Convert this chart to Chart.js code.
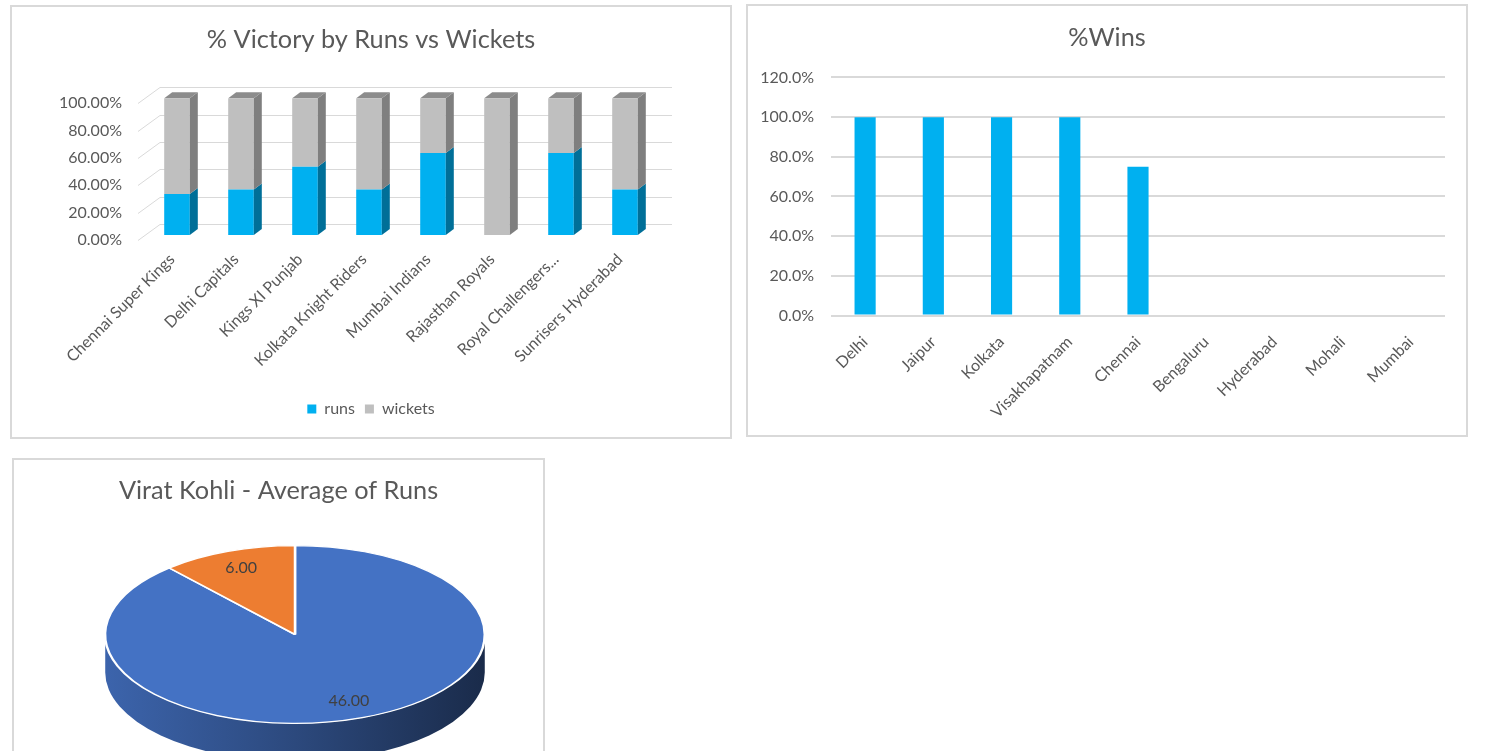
<!DOCTYPE html>
<html><head><meta charset="utf-8">
<script src="https://cdn.jsdelivr.net/npm/chart.js@4.4.1/dist/chart.umd.min.js"></script>
<style>
html,body{margin:0;padding:0;background:#fff;overflow:hidden;width:1492px;height:751px;position:relative;}
.box{position:absolute;border:2px solid #d9d9d9;box-sizing:border-box;background:#fff;}
canvas{position:absolute;}
</style></head><body>
<div class="box" style="left:10px;top:5px;width:722px;height:434px;"></div>
<div class="box" style="left:746px;top:4px;width:722px;height:433px;"></div>
<div class="box" style="left:12px;top:458px;width:533px;height:400px;"></div>
<canvas id="c1" style="left:12px;top:7px;width:718px;height:430px;" width="718" height="430"></canvas>
<canvas id="c2" style="left:748px;top:6px;width:718px;height:429px;" width="718" height="429"></canvas>
<canvas id="c3" style="left:14px;top:460px;width:529px;height:438px;" width="529" height="438"></canvas>
<script>
// ---------- data ----------
const teams = ['Chennai Super Kings','Delhi Capitals','Kings XI Punjab','Kolkata Knight Riders','Mumbai Indians','Rajasthan Royals','Royal Challengers...','Sunrisers Hyderabad'];
const runsPct = [30, 33.33, 50, 33.33, 60, 0, 60, 33.33];
const wicketsPct = [70, 66.67, 50, 66.67, 40, 100, 40, 66.67];

const venues = ['Delhi','Jaipur','Kolkata','Visakhapatnam','Chennai','Bengaluru','Hyderabad','Mohali','Mumbai'];
const winsPct = [100, 100, 100, 100, 75, 0, 0, 0, 0];

const pieCategories = ['Runs A','Runs B'];
const pieValues = [46, 6];

// ---------- styles ----------
Chart.defaults.font.family = 'Lato, "Open Sans", sans-serif';
Chart.defaults.color = '#595959';
const TXT = '#595959';
const TITLE_FONT = {size: 25.3, weight: 'normal'};
const AXIS_FONT = {size: 16};

// invisible spacer axis (reserves room on one side of the plot)
function spacer(pos, w) {
  return {position: pos, display: true, grid: {display: false, drawTicks: false}, border: {display: false},
          ticks: {display: false}, afterFit(s) { s.width = w; }};
}

// ---------- chart 1 : 3D stacked columns ----------
const bar3d = {
  id: 'bar3d',
  beforeDatasetsDraw(chart) {
    const {ctx, chartArea: a, scales: {y}} = chart;
    ctx.save();
    ctx.strokeStyle = '#d9d9d9';
    ctx.lineWidth = 1;
    y.ticks.forEach(t => {
      const py = Math.round(y.getPixelForValue(t.value)) + 0.5;
      ctx.beginPath();
      ctx.moveTo(a.left - 7, py + 5);
      ctx.lineTo(a.left + 15, py - 11);
      ctx.lineTo(a.right + 15, py - 11);
      ctx.stroke();
    });
    ctx.restore();
  },
  afterDatasetsDraw(chart) {
    const ctx = chart.ctx, dx = 8, dy = -6;
    const sets = chart.data.datasets;
    ctx.save();
    sets.forEach((ds, di) => {
      const meta = chart.getDatasetMeta(di);
      meta.data.forEach((el, i) => {
        if (!ds.data[i]) return;
        const {x, y, base, width} = el.getProps(['x', 'y', 'base', 'width'], true);
        const l = x - width / 2, r = x + width / 2;
        ctx.fillStyle = ds.sideColor;
        ctx.beginPath();
        ctx.moveTo(r, y); ctx.lineTo(r + dx, y + dy); ctx.lineTo(r + dx, base + dy); ctx.lineTo(r, base);
        ctx.closePath(); ctx.fill();
        const isTop = sets.slice(di + 1).every(d => !d.data[i]);
        if (isTop) {
          ctx.fillStyle = ds.topColor;
          ctx.beginPath();
          ctx.moveTo(l, y); ctx.lineTo(l + dx, y + dy); ctx.lineTo(r + dx, y + dy); ctx.lineTo(r, y);
          ctx.closePath(); ctx.fill();
        }
      });
    });
    ctx.restore();
  }
};

new Chart(document.getElementById('c1'), {
  type: 'bar',
  data: {
    labels: teams,
    datasets: [
      {label: 'runs', data: runsPct, backgroundColor: '#00B0F0', sideColor: '#006F98', topColor: '#0090C4', barPercentage: 0.4, categoryPercentage: 1},
      {label: 'wickets', data: wicketsPct, backgroundColor: '#BFBFBF', sideColor: '#7F7F7F', topColor: '#8C8C8C', barPercentage: 0.4, categoryPercentage: 1}
    ]
  },
  options: {
    responsive: false, animation: false,
    layout: {padding: {left: 0, right: 0, top: 0, bottom: 10}},
    plugins: {
      title: {display: true, text: '% Victory by Runs vs Wickets', color: TXT, font: TITLE_FONT, padding: {top: 17.8, bottom: 43.1}},
      legend: {position: 'bottom', labels: {boxWidth: 9, boxHeight: 9, color: TXT, font: AXIS_FONT, padding: 10}},
      tooltip: {enabled: false}
    },
    scales: {
      x: {stacked: true, grid: {display: false}, border: {display: false},
          ticks: {color: TXT, font: AXIS_FONT, minRotation: 45, maxRotation: 45, padding: 7, labelOffset: -5, autoSkip: false},
          afterFit(s) { s.height = 156; }},
      y: {stacked: true, min: 0, max: 100, grid: {display: false, drawTicks: false}, border: {display: false},
          ticks: {stepSize: 20, color: TXT, font: AXIS_FONT, padding: 23, labelOffset: 5, callback: v => v.toFixed(2) + '%'},
          afterFit(s) { s.width = 133; }},
      yR: spacer('right', 73)
    }
  },
  plugins: [bar3d]
});

// ---------- chart 2 : %Wins ----------
new Chart(document.getElementById('c2'), {
  type: 'bar',
  data: {
    labels: venues,
    datasets: [{label: '%Wins', data: winsPct, backgroundColor: '#00B0F0', barPercentage: 0.31, categoryPercentage: 1}]
  },
  options: {
    responsive: false, animation: false,
    layout: {padding: 0},
    plugins: {
      title: {display: true, text: '%Wins', color: TXT, font: TITLE_FONT, padding: {top: 16.8, bottom: 24.3}},
      legend: {display: false},
      tooltip: {enabled: false}
    },
    scales: {
      x: {grid: {display: false}, border: {display: false},
          ticks: {color: TXT, font: AXIS_FONT, minRotation: 45, maxRotation: 45, padding: 9, autoSkip: false},
          afterFit(s) { s.height = 119.5; }},
      y: {min: 0, max: 120, grid: {color: '#d9d9d9', lineWidth: 2, drawTicks: false}, border: {display: false},
          ticks: {stepSize: 20, color: TXT, font: AXIS_FONT, padding: 17, callback: v => v.toFixed(1) + '%'},
          afterFit(s) { s.width = 83; }},
      yR: spacer('right', 21)
    }
  }
});

// ---------- chart 3 : 3D pie ----------
const PIE_K = 0.4686;      // vertical squash of the tilted pie
const PIE_CY = 174.5;      // on-canvas vertical centre of the tilted pie
const PIE_DEPTH = 38;      // thickness of the pie side
function shade(hex, f) {
  const n = parseInt(hex.slice(1), 16);
  const r = Math.round(((n >> 16) & 255) * f), g = Math.round(((n >> 8) & 255) * f), b = Math.round((n & 255) * f);
  return `rgb(${r},${g},${b})`;
}
const pie3d = {
  id: 'pie3d',
  beforeDatasetsDraw(chart) {
    const ctx = chart.ctx;
    const meta = chart.getDatasetMeta(0);
    const e0 = meta.data[0];
    const cx = e0.x, cy = e0.y, r = e0.outerRadius;
    const ry = r * PIE_K;
    const colors = chart.data.datasets[0].backgroundColor;
    ctx.save();
    meta.data.forEach((el, i) => {
      const s = el.startAngle, e = el.endAngle;
      for (let k = -1; k <= 1; k++) {
        const a0 = Math.max(s, 2 * Math.PI * k), a1 = Math.min(e, 2 * Math.PI * k + Math.PI);
        if (a1 <= a0) continue;
        const g = ctx.createLinearGradient(cx - r, 0, cx + r, 0);
        g.addColorStop(0, shade(colors[i], 0.88));
        g.addColorStop(0.5, shade(colors[i], 0.64));
        g.addColorStop(1, shade(colors[i], 0.38));
        ctx.fillStyle = g;
        ctx.beginPath();
        ctx.ellipse(cx, PIE_CY, r, ry, 0, a0, a1, false);
        ctx.ellipse(cx, PIE_CY + PIE_DEPTH, r, ry, 0, a1, a0, true);
        ctx.closePath();
        ctx.fill();
      }
    });
    ctx.restore();
    ctx.save();
    ctx.translate(cx, PIE_CY);
    ctx.scale(1, PIE_K);
    ctx.translate(-cx, -cy);
  },
  afterDatasetsDraw(chart) {
    const ctx = chart.ctx;
    ctx.restore();
    const meta = chart.getDatasetMeta(0);
    const vals = chart.data.datasets[0].data;
    ctx.save();
    ctx.fillStyle = '#404040';
    ctx.font = '16px Lato, "Open Sans", sans-serif';
    ctx.textAlign = 'center';
    ctx.textBaseline = 'middle';
    meta.data.forEach((el, i) => {
      const mid = (el.startAngle + el.endAngle) / 2;
      const f = 0.8 * el.outerRadius;
      ctx.fillText(vals[i].toFixed(2), el.x + f * Math.cos(mid), PIE_CY + f * PIE_K * Math.sin(mid));
    });
    ctx.restore();
  }
};

new Chart(document.getElementById('c3'), {
  type: 'pie',
  data: {
    labels: pieCategories,
    datasets: [{data: pieValues, backgroundColor: ['#4472C4', '#ED7D31'], borderColor: '#ffffff', borderWidth: 2.5}]
  },
  options: {
    responsive: false, animation: false,
    layout: {padding: {left: 0, right: 0, top: 0, bottom: 0.6}},
    plugins: {
      title: {display: true, text: 'Virat Kohli - Average of Runs', color: TXT, font: TITLE_FONT, padding: {top: 15.8, bottom: 9.2}},
      legend: {display: false},
      tooltip: {enabled: false}
    },
    scales: {
      padL: Object.assign(spacer('left', 33), {axis: 'y'})
    }
  },
  plugins: [pie3d]
});
</script>
</body></html>
